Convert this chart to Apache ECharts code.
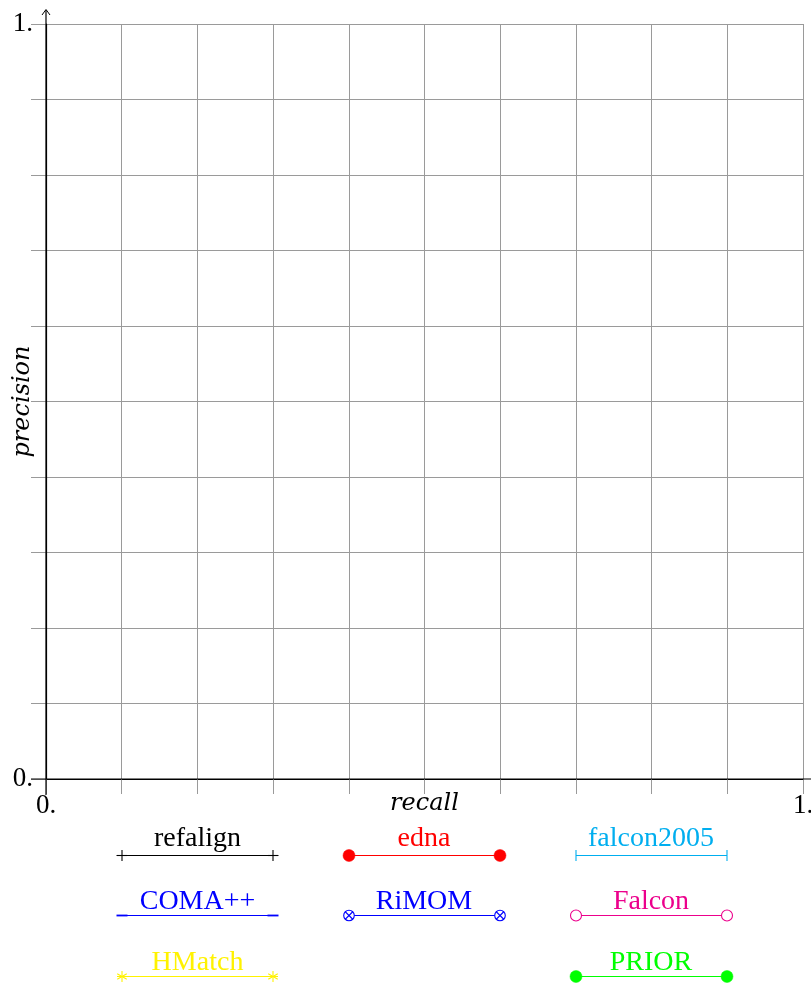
<!DOCTYPE html>
<html>
<head>
<meta charset="utf-8">
<script src="https://cdn.jsdelivr.net/npm/echarts@6/dist/echarts.min.js"></script>
<style>
  html, body { margin: 0; padding: 0; background: #ffffff; }
  #chart { width: 811px; height: 984px; }
</style>
</head>
<body>
<div id="chart"></div>
<script>
// Matchers compared in the precision/recall plane (legend order, 3 columns; '' = empty slot)
const methodNames = ['refalign', 'edna', 'falcon2005', 'COMA++', 'RiMOM', 'Falcon', 'HMatch', '', 'PRIOR'];

// Measured [recall, precision] points per matcher (none plotted in this figure)
const refalignPoints = [];
const ednaPoints = [];
const falcon2005Points = [];
const comaPoints = [];
const rimomPoints = [];
const falconPoints = [];
const hmatchPoints = [];
const priorPoints = [];

// Axis range and the labelled ticks
const axisMin = 0;
const axisMax = 1;
const gridStep = 0.1;
const labelledTicks = [0, 1];
const tickLabels = ['0.', '1.'];

// Per-matcher drawing style
const methodColors = {
  'refalign': '#000000', 'edna': '#ff0000', 'falcon2005': '#00aeef',
  'COMA++': '#0000ff', 'RiMOM': '#0000ff', 'Falcon': '#ec008c',
  'HMatch': '#fff200', 'PRIOR': '#00ff00'
};
const methodMarks = {
  'refalign': 'plus', 'edna': 'dot', 'falcon2005': 'bar',
  'COMA++': 'dash', 'RiMOM': 'otimes', 'Falcon': 'circle',
  'HMatch': 'asterisk', 'PRIOR': 'dot'
};
const methodPoints = {
  'refalign': refalignPoints, 'edna': ednaPoints, 'falcon2005': falcon2005Points,
  'COMA++': comaPoints, 'RiMOM': rimomPoints, 'Falcon': falconPoints,
  'HMatch': hmatchPoints, 'PRIOR': priorPoints
};

const SERIF = 'Liberation Serif';
const MATH = 'DejaVu Serif';

function tickText(v) {
  for (let i = 0; i < labelledTicks.length; i++) {
    if (Math.abs(v - labelledTicks[i]) < 1e-9) return tickLabels[i];
  }
  return '';
}

const chart = echarts.init(document.getElementById('chart'), null, { renderer: 'canvas' });

const gridLine = { show: true, lineStyle: { color: '#9a9a9a', width: 1 } };
const tickLine = { show: true, length: 15, lineStyle: { color: '#9a9a9a', width: 1 } };

const series = methodNames.filter(n => n !== '').map(n => ({
  name: n,
  type: 'line',
  data: methodPoints[n],
  color: methodColors[n],
  symbol: 'circle',
  showSymbol: true,
  lineStyle: { width: 1.3 }
}));

chart.setOption({
  animation: false,
  backgroundColor: '#ffffff',
  grid: { left: 46, right: 8, top: 24, bottom: 205, containLabel: false, outerBoundsMode: 'none' },
  xAxis: {
    type: 'value',
    min: axisMin, max: axisMax, interval: gridStep,
    name: 'recall',
    nameLocation: 'middle',
    nameGap: 13,
    nameMoveOverlap: false,
    nameTextStyle: { fontFamily: MATH, fontStyle: 'italic', fontSize: 24, color: '#000' },
    axisLine: { show: true, onZero: false, lineStyle: { color: '#000', width: 1.2 } },
    axisTick: tickLine,
    splitLine: gridLine,
    axisLabel: {
      margin: 13, fontFamily: SERIF, fontSize: 27, color: '#000',
      showMinLabel: true, showMaxLabel: true, hideOverlap: false, formatter: tickText
    }
  },
  yAxis: {
    type: 'value',
    min: axisMin, max: axisMax, interval: gridStep,
    name: 'precision',
    nameLocation: 'middle',
    nameGap: 11,
    nameMoveOverlap: false,
    nameTextStyle: { fontFamily: MATH, fontStyle: 'italic', fontSize: 24, color: '#000' },
    axisLine: { show: true, onZero: false, lineStyle: { color: '#000', width: 1.2 } },
    axisTick: tickLine,
    splitLine: gridLine,
    axisLabel: {
      margin: 13, fontFamily: SERIF, fontSize: 27, color: '#000',
      showMinLabel: true, showMaxLabel: true, hideOverlap: false, formatter: tickText
    }
  },
  series: series
});

// Axis overshoot and the arrow head on the vertical axis
const o = chart.convertToPixel({ gridIndex: 0 }, [axisMin, axisMin]);
const e = chart.convertToPixel({ gridIndex: 0 }, [axisMax, axisMax]);
const axisStroke = { stroke: '#000', lineWidth: 1.2 };
const graphics = [
  { type: 'line', shape: { x1: o[0], y1: o[1] + 16, x2: o[0], y2: e[1] - 14 }, style: axisStroke, z: 10 },
  { type: 'polyline', shape: { points: [[o[0] - 4, e[1] - 9], [o[0], e[1] - 14.5], [o[0] + 4, e[1] - 9]] },
    style: { stroke: '#000', lineWidth: 1, fill: null }, z: 10 },
  { type: 'line', shape: { x1: o[0] - 15, y1: o[1], x2: e[0] + 20, y2: o[1] }, style: axisStroke, z: 10 }
];

// Legend: three columns, label centred above a sample line with a mark at each end
const legendCols = [
  { x1: 117, x2: 278, m1: 122, m2: 273, cx: 197.5 },
  { x1: 349, x2: 500, m1: 349, m2: 500, cx: 424 },
  { x1: 576, x2: 727, m1: 576, m2: 727, cx: 651 }
];
const legendRows = [
  { line: 855.5, text: 838.5 },
  { line: 915.5, text: 901.5 },
  { line: 976.5, text: 962.5 }
];

function markShapes(kind, x, y, color) {
  const s = { stroke: color, lineWidth: 1.1, fill: null };
  const out = [];
  const r = 5.5;
  if (kind === 'plus') {
    out.push({ type: 'line', shape: { x1: x - r, y1: y, x2: x + r, y2: y }, style: s });
    out.push({ type: 'line', shape: { x1: x, y1: y - r, x2: x, y2: y + r }, style: s });
  } else if (kind === 'dot') {
    out.push({ type: 'circle', shape: { cx: x, cy: y, r: 6 }, style: { fill: color, stroke: color, lineWidth: 0.5 } });
  } else if (kind === 'bar') {
    out.push({ type: 'line', shape: { x1: x, y1: y - r, x2: x, y2: y + r }, style: s });
  } else if (kind === 'dash') {
    out.push({ type: 'line', shape: { x1: x - r, y1: y, x2: x + r, y2: y }, style: { stroke: color, lineWidth: 1.8 } });
  } else if (kind === 'circle') {
    out.push({ type: 'circle', shape: { cx: x, cy: y, r: 5.5 }, style: { fill: '#fff', stroke: color, lineWidth: 1.1 } });
  } else if (kind === 'otimes') {
    const d = 5.3 * Math.SQRT1_2;
    out.push({ type: 'circle', shape: { cx: x, cy: y, r: 5.3 }, style: { fill: '#fff', stroke: color, lineWidth: 1.1 } });
    out.push({ type: 'line', shape: { x1: x - d, y1: y - d, x2: x + d, y2: y + d }, style: s });
    out.push({ type: 'line', shape: { x1: x - d, y1: y + d, x2: x + d, y2: y - d }, style: s });
  } else if (kind === 'asterisk') {
    for (let k = 0; k < 3; k++) {
      const a = Math.PI / 2 + k * Math.PI / 3;
      const dx = r * Math.cos(a), dy = r * Math.sin(a);
      out.push({ type: 'line', shape: { x1: x - dx, y1: y - dy, x2: x + dx, y2: y + dy }, style: s });
    }
  }
  return out;
}

methodNames.forEach((name, i) => {
  if (!name) return;
  const col = legendCols[i % 3];
  const row = legendRows[Math.floor(i / 3)];
  const color = methodColors[name];
  graphics.push({ type: 'line', shape: { x1: col.x1, y1: row.line, x2: col.x2, y2: row.line },
    style: { stroke: color, lineWidth: 1.2 } });
  markShapes(methodMarks[name], col.m1, row.line, color).forEach(g => graphics.push(g));
  markShapes(methodMarks[name], col.m2, row.line, color).forEach(g => graphics.push(g));
  graphics.push({ type: 'text', x: col.cx, y: row.text,
    style: { text: name, fill: color, font: '28px "' + SERIF + '"', align: 'center', verticalAlign: 'middle' } });
});

chart.setOption({ graphic: graphics });
</script>
</body>
</html>
